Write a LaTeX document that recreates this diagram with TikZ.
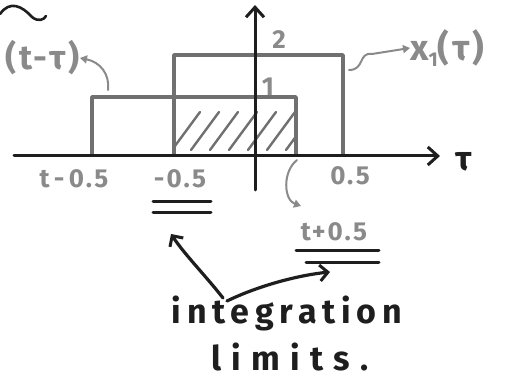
\documentclass[tikz,border=0pt]{standalone}
\usepackage{fontspec}
\setmainfont{Fira Sans}
\usetikzlibrary{arrows.meta}
\definecolor{shp}{HTML}{707070}
\definecolor{lbl}{HTML}{8A8A8A}
\definecolor{ink}{HTML}{1E1E1E}
\tikzset{
  shapeline/.style={draw=shp, line width=3.6pt, line join=round, line cap=round},
  axisline/.style={draw=ink, line width=3pt, line cap=round, -{Straight Barb[length=10pt,width=18pt,line width=3pt]}},
  hatchline/.style={draw=shp, line width=2.4pt, line cap=round},
  graylbl/.style={text=lbl, inner sep=0pt, font=\fontsize{26}{28}\selectfont\bfseries\addfontfeature{LetterSpace=8}},
  grayarrow/.style={draw=lbl, line width=2pt, line cap=round, -{Triangle[length=7pt,width=8pt]}},
  inkarrow/.style={draw=ink, line width=3.2pt, line cap=round, -{Straight Barb[length=8pt,width=16pt,line width=3pt]}},
  dbl/.style={draw=ink, line width=3pt, line cap=round},
  handtext/.style={text=ink, inner sep=0pt, anchor=base, font=\fontsize{34}{38}\selectfont\bfseries\addfontfeature{LetterSpace=17}}
}
\begin{document}
\begin{tikzpicture}[x=1pt,y=-1pt]
\useasboundingbox (0,0) rectangle (528,385);
\clip (0,0) rectangle (528,385);
% hatching
\begin{scope}
\clip (176,99) rectangle (294,154);
\foreach \i in {0,...,6} \draw[hatchline] (172+\i*19,150) -- (200+\i*19,112);
\end{scope}
% rectangles
\draw[shapeline] (92,155) -- (92,97) -- (296,97) -- (296,155);
\draw[shapeline] (174,155) -- (174,55) -- (343,55) -- (343,155);
% axes
\coordinate (xl) at (14,156);
\coordinate (xr) at (440,156);
\coordinate (yb) at (255,190);
\coordinate (yt) at (255,5);
\draw[axisline] (xl) -- (xr);
\draw[axisline] (yb) -- (yt);
\node[inner sep=0pt, text=ink, font=\fontsize{34}{36}\selectfont\bfseries] (tau) at (464,162) {τ};
% level labels
\node[graylbl] (two) at (279,40) {2};
\node[graylbl] (one) at (268,87) {1};
% tick labels
\node[graylbl] (tm) at (74,179) {t\,-\,0.5};
\node[graylbl] (mh) at (180,179) {-0.5};
\node[graylbl] (ph) at (350,176) {0.5};
\node[graylbl] (tp) at (334,232) {t+0.5};
% double underlines
\draw[dbl] (153,202) -- (211,202);
\draw[dbl] (153,213) -- (211,213);
\draw[dbl] (296,251) -- (379,251);
\draw[dbl] (306,262) -- (379,262);
% x1 label
\node[inner sep=0pt, text=lbl, anchor=west, font=\fontsize{36}{38}\selectfont\bfseries\addfontfeature{LetterSpace=8}] (x1) at (410,48) {x\raisebox{-6pt}{\fontsize{20}{20}\selectfont 1}(τ)};
\coordinate (x1s) at (349,70);
\draw[grayarrow] (x1s) .. controls (365,70) and (358,52) .. (372,54) -- (x1.west);
% h label
\node[inner sep=0pt, text=lbl, anchor=east, font=\fontsize{34}{36}\selectfont\bfseries\addfontfeature{LetterSpace=8}] (hl) at (80,58) {(t-τ)};
\coordinate (hs) at (108,90);
\draw[grayarrow] (hs) .. controls (110,74) and (100,62) .. (hl.east);
% t+0.5 arrow
\coordinate (ts) at (297,160);
\coordinate (te) at (301,206);
\draw[grayarrow] (ts) .. controls (282,172) and (284,200) .. (te);
% tilde
\draw[ink, line width=2.6pt, line cap=round] (0,14) .. controls (10,0) and (22,6) .. (32,17) .. controls (38,22) and (44,20) .. (46,16);
% integration limits
\node[handtext] (int) at (287,323) {integration};
\node[handtext, font=\fontsize{34}{38}\selectfont\bfseries\addfontfeature{LetterSpace=30}] (lim) at (290,370) {limits.};
\coordinate (a1) at (223,298);
\coordinate (a2) at (227,301);
\draw[inkarrow] (a1) .. controls (205,275) and (185,255) .. (171,234);
\draw[inkarrow] (a2) .. controls (260,285) and (300,275) .. (330,272);
\end{tikzpicture}
\end{document}
